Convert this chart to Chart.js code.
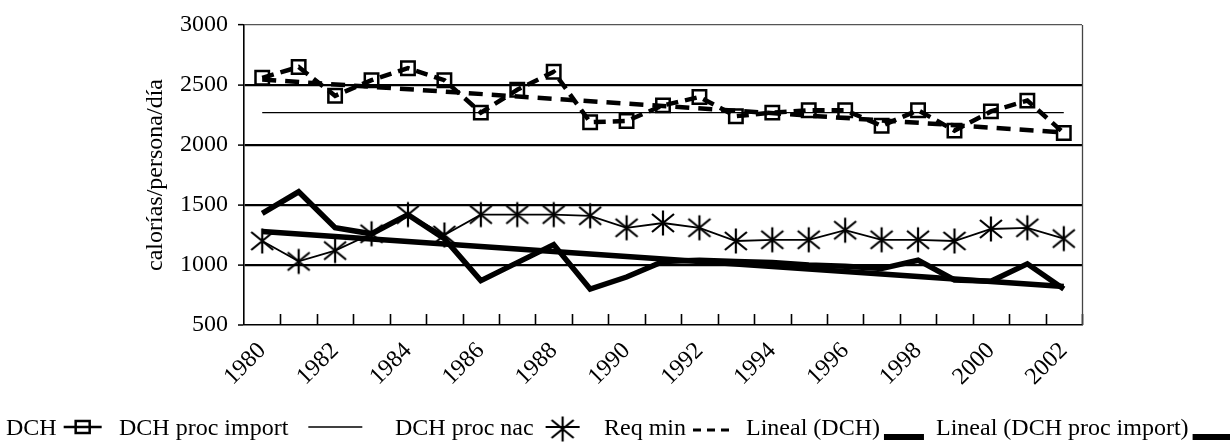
<!DOCTYPE html>
<html>
<head>
<meta charset="utf-8">
<script src="https://cdn.jsdelivr.net/npm/chart.js@4.4.1/dist/chart.umd.min.js"></script>
<style>
  html, body { margin: 0; padding: 0; background: #fff; }
  #wrap { width: 1230px; height: 445px; }
</style>
</head>
<body>
<div id="wrap"><canvas id="chart" width="1230" height="445"></canvas></div>
<script>
// Data
const years = ["1980", "1981", "1982", "1983", "1984", "1985", "1986", "1987", "1988", "1989", "1990", "1991",
  "1992", "1993", "1994", "1995", "1996", "1997", "1998", "1999", "2000", "2001", "2002"];
const dch = [2560, 2650, 2410, 2540, 2640, 2540, 2270, 2460, 2610, 2190, 2200, 2330,
  2400, 2240, 2270, 2290, 2290, 2160, 2290, 2120, 2280, 2370, 2100];
const dchImport = [1430, 1610, 1310, 1260, 1420, 1220, 870, 1020, 1170, 800, 900, 1030,
  1040, 1030, 1020, 1000, 990, 970, 1040, 875, 865, 1010, 800];
const dchNac = [1200, 1030, 1120, 1260, 1420, 1250, 1420, 1420, 1420, 1410, 1310, 1350,
  1310, 1200, 1210, 1210, 1290, 1210, 1210, 1200, 1300, 1310, 1220];
const reqMin = [2270, 2270, 2270, 2270, 2270, 2270, 2270, 2270, 2270, 2270, 2270, 2270,
  2270, 2270, 2270, 2270, 2270, 2270, 2270, 2270, 2270, 2270, 2270];
const linealDch = [2545, null, null, null, null, null, null, null, null, null, null, null,
  null, null, null, null, null, null, null, null, null, null, 2105];
const linealImport = [1280, null, null, null, null, null, null, null, null, null, null, null,
  null, null, null, null, null, null, null, null, null, null, 820];
const yMin = 500;
const yMax = 3000;
const yStep = 500;

const FONT = "'Liberation Serif', 'DejaVu Serif', serif";

// asterisk marker (vertical stroke + X)
const asterisk = document.createElement("canvas");
asterisk.width = 26;
asterisk.height = 28;
(function () {
  const c = asterisk.getContext("2d");
  c.strokeStyle = "#000";
  c.lineWidth = 2.2;
  c.beginPath();
  c.moveTo(13, 1.5); c.lineTo(13, 26.5);
  c.moveTo(2, 5); c.lineTo(24, 23);
  c.moveTo(2, 23); c.lineTo(24, 5);
  c.stroke();
})();

// inside tick marks on the category axis + right frame line
const frameTicks = {
  id: "frameTicks",
  afterDraw(chart) {
    const { ctx, chartArea } = chart;
    const x = chart.scales.x;
    const n = years.length;
    const w = (x.getPixelForValue(n - 1) - x.getPixelForValue(0)) / (n - 1);
    ctx.save();
    ctx.strokeStyle = "#000";
    ctx.lineWidth = 1.6;
    ctx.beginPath();
    for (let i = 1; i <= n; i++) {
      const px = Math.round(x.getPixelForValue(i - 1) + w / 2) + 0.5;
      ctx.moveTo(px, chartArea.bottom);
      ctx.lineTo(px, chartArea.bottom - 11);
    }
    ctx.stroke();
    ctx.strokeStyle = "#444";
    ctx.lineWidth = 1.3;
    ctx.beginPath();
    ctx.moveTo(chartArea.right + 0.5, chartArea.top);
    ctx.lineTo(chartArea.right + 0.5, chartArea.bottom);
    ctx.stroke();
    ctx.restore();
  },
};

// legend: label first, then its symbol after the text (gap = space before symbol)
const legendItems = [
  { text: "DCH", sym: "square", x: 6, gap: 7, sw: 38 },
  { text: "DCH proc import", sym: "thin", x: 119, gap: 20, sw: 54 },
  { text: "DCH proc nac", sym: "asterisk", x: 395, gap: 12, sw: 34 },
  { text: "Req min", sym: "dash", x: 604, gap: 7, sw: 40 },
  { text: "Lineal (DCH)", sym: "bar", x: 746, gap: 4, sw: 40 },
  { text: "Lineal (DCH proc import)", sym: "bar", x: 936, gap: 4, sw: 40 },
];

const textLegend = {
  id: "textLegend",
  afterDraw(chart) {
    const ctx = chart.ctx;
    ctx.save();
    ctx.font = "24px " + FONT;
    ctx.fillStyle = "#000";
    ctx.strokeStyle = "#000";
    ctx.textBaseline = "alphabetic";
    const y = 435, cy = 427;
    legendItems.forEach((it) => {
      ctx.fillText(it.text, it.x, y);
      const sw = it.sw;
      const x = it.x + ctx.measureText(it.text).width + it.gap;
      ctx.beginPath();
      if (it.sym === "square") {
        ctx.lineWidth = 2.5;
        ctx.moveTo(x, cy); ctx.lineTo(x + sw, cy);
        ctx.stroke();
        ctx.strokeRect(x + sw / 2 - 7, cy - 6, 14, 12);
      } else if (it.sym === "thin") {
        ctx.lineWidth = 1.3;
        ctx.moveTo(x, cy); ctx.lineTo(x + sw, cy);
        ctx.stroke();
      } else if (it.sym === "asterisk") {
        ctx.lineWidth = 1.8;
        ctx.moveTo(x, cy); ctx.lineTo(x + sw, cy);
        ctx.stroke();
        ctx.drawImage(asterisk, x + sw / 2 - 13, cy - 12);
      } else if (it.sym === "dash") {
        ctx.lineWidth = 3;
        ctx.setLineDash([8, 6]);
        ctx.moveTo(x, cy + 3); ctx.lineTo(x + sw, cy + 3);
        ctx.stroke();
        ctx.setLineDash([]);
      } else {
        ctx.fillRect(x, 434, sw, 6);
      }
    });
    ctx.restore();
  },
};

new Chart(document.getElementById("chart"), {
  type: "line",
  data: {
    labels: years,
    datasets: [
      {
        label: "DCH",
        data: dch,
        borderColor: "#000",
        borderWidth: 4.5,
        borderDash: [12, 7],
        pointStyle: "rect",
        pointRadius: 9.5,
        pointBorderWidth: 2.5,
        pointBackgroundColor: "rgba(0,0,0,0)",
        pointBorderColor: "#000",
        tension: 0,
      },
      {
        label: "DCH proc import",
        data: dchImport,
        borderColor: "#000",
        borderWidth: 5.5,
        pointRadius: 0,
        borderJoinStyle: "miter",
        tension: 0,
      },
      {
        label: "DCH proc nac",
        data: dchNac,
        borderColor: "#000",
        borderWidth: 1.8,
        pointStyle: asterisk,
        pointRadius: 10,
        tension: 0,
      },
      {
        label: "Req min",
        data: reqMin,
        borderColor: "#000",
        borderWidth: 1.3,
        pointRadius: 0,
        tension: 0,
      },
      {
        label: "Lineal (DCH)",
        data: linealDch,
        borderColor: "#000",
        borderWidth: 4.5,
        borderDash: [14, 9],
        pointRadius: 0,
        spanGaps: true,
      },
      {
        label: "Lineal (DCH proc import)",
        data: linealImport,
        borderColor: "#000",
        borderWidth: 5.5,
        pointRadius: 0,
        spanGaps: true,
      },
    ],
  },
  options: {
    responsive: false,
    devicePixelRatio: 1,
    animation: false,
    layout: { padding: { left: 141, top: 25, right: 148, bottom: 0 } },
    plugins: {
      legend: { display: false },
      tooltip: { enabled: false },
    },
    scales: {
      x: {
        offset: true,
        afterFit: (s) => { s.height = 120; },
        grid: { display: false, drawOnChartArea: false, drawTicks: false },
        border: { display: true, color: "#000", width: 1.6 },
        ticks: {
          autoSkip: false,
          minRotation: 45,
          maxRotation: 45,
          padding: 12,
          color: "#000",
          font: { family: FONT, size: 24 },
          callback: (v, i) => (i % 2 === 0 ? years[i] : ""),
        },
      },
      y: {
        min: yMin,
        max: yMax,
        afterFit: (s) => { s.width = 103; },
        border: { display: true, color: "#000", width: 1.6 },
        grid: {
          color: (c) => (c.tick && c.tick.value === yMax ? "#555" : "#000"),
          lineWidth: (c) => (c.tick && c.tick.value === yMax ? 1.3 : (c.tick && c.tick.value === yMin ? 0 : 2.2)),
          tickLength: 6,
          tickWidth: 1.5,
          tickColor: "#000",
        },
        ticks: {
          stepSize: yStep,
          padding: 10,
          color: "#000",
          font: { family: FONT, size: 24 },
          callback: (v) => String(v),
        },
        title: {
          display: true,
          text: "calorías/persona/día",
          color: "#000",
          padding: 0,
          font: { family: FONT, size: 24 },
        },
      },
    },
  },
  plugins: [frameTicks, textLegend],
});
</script>
</body>
</html>
